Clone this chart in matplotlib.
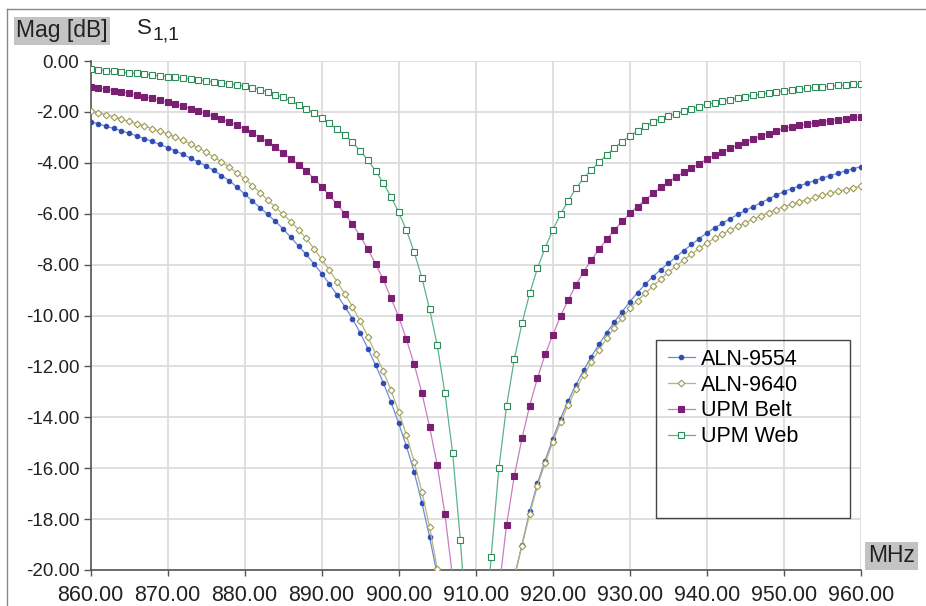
import numpy as np
import matplotlib
matplotlib.use('Agg')
import matplotlib.pyplot as plt
from matplotlib.patches import Rectangle
from matplotlib.lines import Line2D

nan = np.nan

freq_mhz = list(range(860, 961))

aln_9554 = [
    -2.38, -2.47, -2.56, -2.65, -2.74, -2.84, -2.94, -3.05, -3.16, -3.28,
    -3.40, -3.53, -3.67, -3.82, -3.97, -4.13, -4.30, -4.50, -4.70, -4.95,
    -5.23, -5.50, -5.76, -6.03, -6.30, -6.60, -6.93, -7.27, -7.60, -7.97,
    -8.35, -8.76, -9.19, -9.65, -10.13, -10.68, -11.30, -11.95, -12.64, -13.40,
    -14.24, -15.13, -16.14, -17.35, -18.69, -20.20, nan, nan, nan, nan,
    nan, nan, nan, nan, nan, -20.30, -19.00, -17.70, -16.60, -15.70,
    -14.85, -14.05, -13.35, -12.72, -12.15, -11.62, -11.13, -10.67, -10.25, -9.85,
    -9.46, -9.10, -8.77, -8.47, -8.20, -7.95, -7.70, -7.45, -7.21, -6.98,
    -6.75, -6.56, -6.38, -6.20, -6.03, -5.87, -5.72, -5.57, -5.42, -5.27,
    -5.13, -5.02, -4.91, -4.80, -4.70, -4.60, -4.50, -4.41, -4.32, -4.23,
    -4.15,
]

aln_9640 = [
    -1.95, -2.03, -2.11, -2.19, -2.28, -2.37, -2.46, -2.56, -2.66, -2.76,
    -2.86, -2.99, -3.12, -3.26, -3.42, -3.59, -3.77, -3.96, -4.17, -4.40,
    -4.63, -4.90, -5.17, -5.46, -5.75, -6.03, -6.31, -6.63, -6.97, -7.37,
    -7.79, -8.22, -8.67, -9.15, -9.65, -10.22, -10.83, -11.50, -12.20, -12.93,
    -13.78, -14.70, -15.74, -16.92, -18.30, -19.95, -21.80, nan, nan, nan,
    nan, nan, nan, nan, nan, -20.30, -19.05, -17.80, -16.70, -15.80,
    -14.97, -14.20, -13.50, -12.90, -12.35, -11.83, -11.35, -10.90, -10.48, -10.09,
    -9.72, -9.42, -9.13, -8.85, -8.57, -8.30, -8.06, -7.82, -7.59, -7.36,
    -7.14, -6.97, -6.80, -6.65, -6.50, -6.35, -6.22, -6.09, -5.96, -5.84,
    -5.72, -5.63, -5.54, -5.45, -5.36, -5.27, -5.19, -5.12, -5.05, -4.98,
    -4.91,
]

upm_belt = [
    -1.03, -1.07, -1.11, -1.16, -1.21, -1.27, -1.34, -1.41, -1.47, -1.54,
    -1.62, -1.70, -1.78, -1.87, -1.96, -2.06, -2.17, -2.28, -2.40, -2.52,
    -2.66, -2.83, -3.01, -3.20, -3.39, -3.61, -3.85, -4.07, -4.32, -4.62,
    -4.94, -5.28, -5.63, -6.00, -6.40, -6.88, -7.40, -7.97, -8.58, -9.32,
    -10.05, -10.94, -11.91, -13.03, -14.37, -15.87, -17.81, -20.30, nan, nan,
    nan, nan, nan, -20.80, -18.23, -16.31, -14.83, -13.54, -12.47, -11.53,
    -10.77, -10.02, -9.39, -8.80, -8.28, -7.82, -7.40, -7.00, -6.64, -6.30,
    -5.99, -5.72, -5.46, -5.20, -4.96, -4.75, -4.55, -4.38, -4.22, -4.03,
    -3.86, -3.71, -3.57, -3.43, -3.30, -3.17, -3.06, -2.95, -2.85, -2.75,
    -2.65, -2.59, -2.53, -2.48, -2.43, -2.38, -2.34, -2.30, -2.26, -2.22,
    -2.19,
]

upm_web = [
    -0.33, -0.35, -0.38, -0.40, -0.43, -0.46, -0.49, -0.52, -0.55, -0.58,
    -0.61, -0.64, -0.67, -0.70, -0.74, -0.78, -0.82, -0.86, -0.90, -0.94,
    -0.98, -1.05, -1.13, -1.22, -1.32, -1.43, -1.55, -1.73, -1.88, -2.06,
    -2.25, -2.45, -2.67, -2.91, -3.20, -3.52, -3.90, -4.31, -4.80, -5.33,
    -5.95, -6.64, -7.50, -8.51, -9.74, -11.16, -13.06, -15.39, -18.82, -23.00,
    nan, -23.50, -19.48, -16.00, -13.56, -11.72, -10.31, -9.13, -8.15, -7.34,
    -6.64, -6.02, -5.50, -5.00, -4.61, -4.28, -3.98, -3.69, -3.41, -3.17,
    -2.95, -2.75, -2.56, -2.40, -2.27, -2.17, -2.07, -1.98, -1.88, -1.79,
    -1.70, -1.64, -1.58, -1.52, -1.46, -1.40, -1.35, -1.30, -1.25, -1.21,
    -1.17, -1.14, -1.11, -1.07, -1.04, -1.01, -0.99, -0.96, -0.94, -0.92,
    -0.90,
]

series_names = ['ALN-9554', 'ALN-9640', 'UPM Belt', 'UPM Web']
x_ticks = list(range(860, 961, 10))
y_ticks = list(range(0, -21, -2))

W, H = 926, 606


def fx(px):
    return px / W


def fy(py):
    return 1 - py / H


plt.rcParams['font.family'] = ['Liberation Sans', 'DejaVu Sans']

fig = plt.figure(figsize=(W / 100, H / 100), dpi=100)
ax = fig.add_axes([fx(90.5), fy(570), fx(861) - fx(90.5), fy(61) - fy(570)])

styles = [
    # line colour, marker, marker face, marker edge, size
    ('#6f8ad8', 'o', '#2f4cb0', '#2f4cb0', 3.2),
    ('#b5b57a', 'D', 'white', '#9a9a50', 3.4),
    ('#c77ec2', 's', '#7a1f72', '#7a1f72', 4.4),
    ('#5cb48a', 's', 'white', '#2e8b5a', 4.4),
]
data = [aln_9554, aln_9640, upm_belt, upm_web]

handles = []
for vals, name, (lc, mk, mf, me, ms) in zip(data, series_names, styles):
    ax.plot(freq_mhz, vals, color=lc, lw=0.9, marker=mk, ms=ms,
            mfc=mf, mec=me, mew=0.8, zorder=3)
    handles.append(Line2D([], [], color=lc, lw=0.9, marker=mk, ms=ms,
                          mfc=mf, mec=me, mew=0.8))

ax.set_xlim(860, 960)
ax.set_ylim(-20, 0)
ax.set_xticks(x_ticks)
ax.set_yticks(y_ticks)
ax.set_xticklabels(['%.2f' % v for v in x_ticks], fontsize=15.5, color='#222222')
ax.set_yticklabels(['%.2f' % v for v in y_ticks], fontsize=13.5, color='#222222')
ax.tick_params(axis='x', length=4, width=1, color='#555555', pad=7)
ax.tick_params(axis='y', length=5, width=1, color='#555555', pad=3)
ax.grid(True, color='#dcdcdc', lw=1.3, zorder=0)
ax.set_axisbelow(True)
for side in ['top', 'right']:
    ax.spines[side].set_visible(False)
for side in ['left', 'bottom']:
    ax.spines[side].set_color('#555555')
    ax.spines[side].set_linewidth(1.2)

# outer frame of the panel
fig.add_artist(Line2D([fx(7), fx(7)], [fy(9), 0], color='#888888', lw=1,
                      transform=fig.transFigure))
fig.add_artist(Line2D([fx(7), 1], [fy(9), fy(9)], color='#888888', lw=1,
                      transform=fig.transFigure))

# header labels
fig.text(fx(16), fy(31), 'Mag [dB]', fontsize=16.5, va='center', ha='left', color='#222222',
         bbox=dict(boxstyle='square,pad=0.1', fc='#c3c3c3', ec='none'))
fig.text(fx(137), fy(28), 'S', fontsize=16, va='center', ha='left', color='#222222')
fig.text(fx(153), fy(35), '1,1', fontsize=14, va='center', ha='left', color='#222222')
fig.text(fx(868), fy(556), 'MHz', fontsize=16.5, va='center', ha='left', color='#222222',
         bbox=dict(boxstyle='square,pad=0.12', fc='#c3c3c3', ec='none'))

# legend with its separate (larger) box
fig.legend(handles, series_names, loc='upper left',
           bbox_to_anchor=(fx(655), fy(336)), frameon=False, fontsize=15.5,
           handlelength=1.25, handletextpad=0.3, labelspacing=0.22,
           borderpad=0.1, numpoints=1)
fig.add_artist(Rectangle((fx(656), fy(518)), fx(850) - fx(656), fy(340) - fy(518),
                         fill=False, ec='#444444', lw=1, transform=fig.transFigure))

fig.savefig('out.png', dpi=100)
